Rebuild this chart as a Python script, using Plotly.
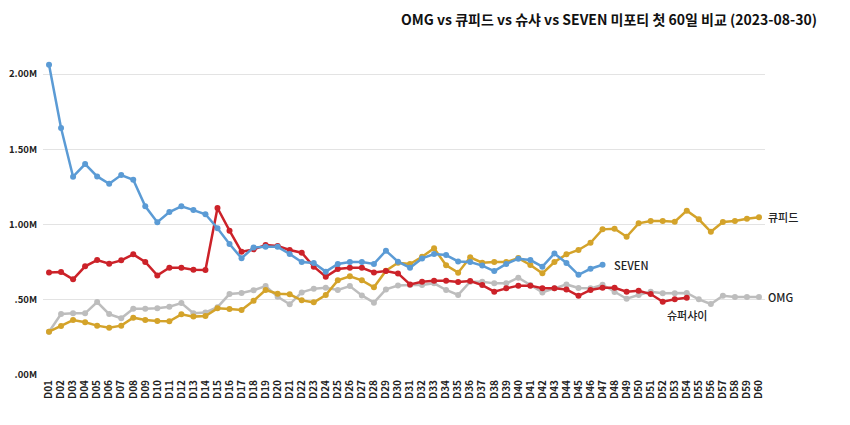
import plotly.graph_objects as go

days = [f"D{i:02d}" for i in range(1, 61)]

seven = [2.062, 1.641, 1.318, 1.402, 1.320, 1.271, 1.329, 1.298, 1.121, 1.015,
         1.083, 1.121, 1.096, 1.068, 0.975, 0.871, 0.776, 0.848, 0.852, 0.852,
         0.804, 0.751, 0.744, 0.687, 0.738, 0.751, 0.751, 0.738, 0.826, 0.753,
         0.713, 0.775, 0.804, 0.797, 0.755, 0.751, 0.727, 0.691, 0.738, 0.773,
         0.764, 0.720, 0.808, 0.744, 0.666, 0.706, 0.733]

cupid = [0.288, 0.326, 0.365, 0.350, 0.328, 0.314, 0.328, 0.381, 0.365, 0.359,
         0.357, 0.403, 0.388, 0.392, 0.443, 0.438, 0.432, 0.494, 0.565, 0.540,
         0.536, 0.496, 0.483, 0.532, 0.629, 0.656, 0.629, 0.583, 0.693, 0.746,
         0.738, 0.786, 0.842, 0.729, 0.680, 0.782, 0.746, 0.751, 0.751, 0.777,
         0.731, 0.676, 0.751, 0.802, 0.831, 0.879, 0.968, 0.972, 0.919, 1.008,
         1.023, 1.023, 1.019, 1.092, 1.035, 0.952, 1.017, 1.023, 1.039, 1.048]

supershy = [0.682, 0.684, 0.636, 0.722, 0.764, 0.740, 0.762, 0.802, 0.751, 0.662,
            0.713, 0.713, 0.700, 0.698, 1.110, 0.959, 0.819, 0.835, 0.864, 0.857,
            0.831, 0.813, 0.720, 0.653, 0.704, 0.713, 0.713, 0.682, 0.691, 0.675,
            0.602, 0.620, 0.627, 0.627, 0.618, 0.625, 0.598, 0.554, 0.576, 0.594,
            0.594, 0.576, 0.576, 0.569, 0.526, 0.565, 0.580, 0.580, 0.554, 0.560,
            0.538, 0.487, 0.503, 0.514]

omg = [0.288, 0.405, 0.410, 0.410, 0.485, 0.405, 0.377, 0.441, 0.441, 0.443,
       0.454, 0.478, 0.410, 0.416, 0.451, 0.538, 0.545, 0.563, 0.591, 0.520,
       0.470, 0.549, 0.574, 0.580, 0.565, 0.591, 0.529, 0.481, 0.569, 0.595,
       0.598, 0.598, 0.609, 0.565, 0.532, 0.620, 0.620, 0.609, 0.609, 0.647,
       0.598, 0.549, 0.576, 0.602, 0.578, 0.576, 0.600, 0.551, 0.507, 0.532,
       0.554, 0.543, 0.543, 0.545, 0.503, 0.472, 0.527, 0.518, 0.518, 0.518]

ytick_vals = [0, 0.5, 1.0, 1.5, 2.0]
ytick_text = [".00M", ".50M", "1.00M", "1.50M", "2.00M"]

series = [
    ("OMG", omg, "#BDBDBD"),
    ("큐피드", cupid, "#D4A32A"),
    ("슈퍼샤이", supershy, "#CC2229"),
    ("SEVEN", seven, "#5B9BD5"),
]

fig = go.Figure()
for name, vals, color in series:
    fig.add_trace(go.Scatter(
        x=days[:len(vals)], y=vals, name=name, mode="lines+markers",
        line=dict(color=color, width=2.5),
        marker=dict(color=color, size=6),
        showlegend=False,
    ))

FONT = "Noto Sans CJK KR"
lab_font = dict(family=FONT, size=11, color="#222222", weight=500)
fig.add_annotation(x=days[len(seven) - 1], y=seven[-1], text="SEVEN", showarrow=False,
                   xanchor="left", xshift=9, font=lab_font)
fig.add_annotation(x=days[len(cupid) - 1], y=cupid[-1], text="큐피드", showarrow=False,
                   xanchor="left", xshift=7, font=lab_font)
fig.add_annotation(x=days[len(omg) - 1], y=omg[-1], text="OMG", showarrow=False,
                   xanchor="left", xshift=7, font=lab_font)
fig.add_annotation(x=days[len(supershy) - 1], y=supershy[-1], text="슈퍼샤이", showarrow=False,
                   xanchor="center", yshift=-17, font=lab_font)

xtick_font = dict(family=FONT, size=10, color="#222222", weight="bold")
ytick_font = dict(family=FONT, size=9.5, color="#222222", weight="bold")

fig.update_layout(
    width=850, height=425,
    margin=dict(l=35, r=93, t=36, b=58),
    paper_bgcolor="white", plot_bgcolor="white",
    title=dict(text="<b>OMG vs 큐피드 vs 슈샤 vs SEVEN 미포티 첫 60일 비교 (2023-08-30)</b>",
               x=809 / 850, xanchor="right", y=1 - 12 / 425, yanchor="middle",
               font=dict(family=FONT, size=14, color="#111111")),
    xaxis=dict(type="category", categoryorder="array", categoryarray=days,
               range=[-0.5, 59.5], autorange=False,
               tickmode="array", tickvals=days, ticktext=days,
               tickangle=-90, showgrid=False, showline=False, ticks="",
               ticklabelstandoff=2,
               automargin=False, tickfont=xtick_font),
    yaxis=dict(range=[0, 2.2], autorange=False, tickmode="array",
               tickvals=ytick_vals, ticktext=ytick_text,
               showgrid=True, gridcolor="#E3E3E3", gridwidth=1, zeroline=False,
               showline=False, ticks="", ticklabelstandoff=5,
               automargin=False, tickfont=ytick_font),
)

fig.write_html("out.html")
